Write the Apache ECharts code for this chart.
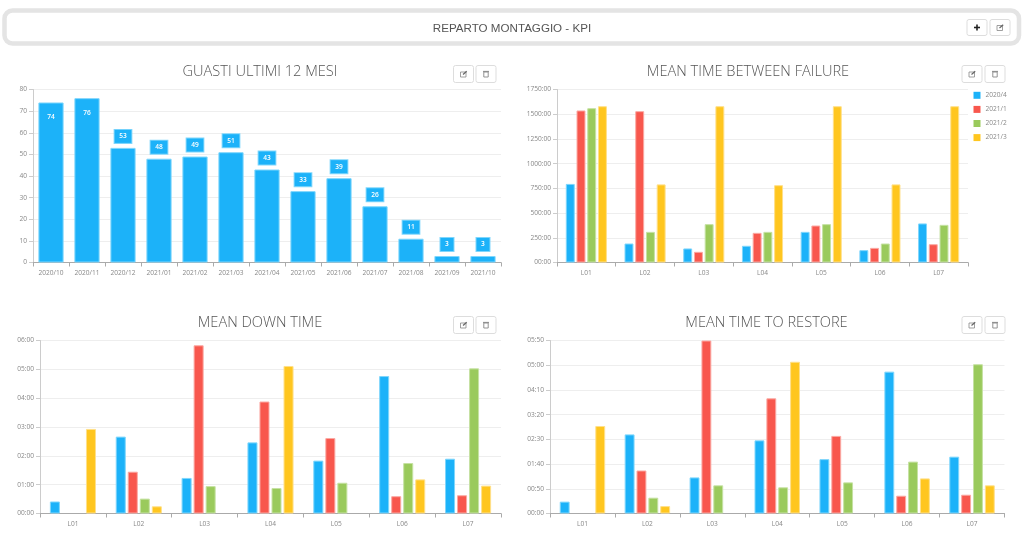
<!DOCTYPE html>
<html><head><meta charset="utf-8">
<style>html,body{margin:0;padding:0;background:#fff}#c{width:1024px;height:536px}</style>
<script src="https://cdn.jsdelivr.net/npm/echarts@6/dist/echarts.min.js"></script>
</head><body><div id="c"></div>
<script>
const months=['2020/10','2020/11','2020/12','2021/01','2021/02','2021/03','2021/04','2021/05','2021/06','2021/07','2021/08','2021/09','2021/10'];
const guasti=[74,76,53,48,49,51,43,33,39,26,11,3,3];
const lines=['L01','L02','L03','L04','L05','L06','L07'];
const seriesNames=['2020/4','2021/1','2021/2','2021/3'];
// hours
const mtbf2020_4=[795,192,142,169,310,125,395];
const mtbf2021_1=[1538,1531,108,300,374,148,185];
const mtbf2021_2=[1561,310,388,310,388,192,381];
const mtbf2021_3=[1581,790,1581,782,1581,790,1581];
// minutes (null = no bar drawn)
const mdt2020_4=[25,160,74,148,110,286,114];
const mdt2021_1=[null,87,350,233,157,36,38];
const mdt2021_2=[null,31,57,53,64,105,302];
const mdt2021_3=[176,15,null,307,null,71,58];
const mttr2020_4=[24,160,73,148,110,287,115];
const mttr2021_1=[null,87,350,233,157,36,38];
const mttr2021_2=[null,32,57,53,63,105,302];
const mttr2021_3=[177,15,null,307,null,71,57];
const colors=['#1cb2f9','#f8574d','#9aca5c','#ffc61f'];
const borders=['#7fd6fc','#fba9a3','#c6e2a3','#ffe08a'];
const pad=n=>String(n).padStart(2,'0');
const hm=m=>pad(Math.floor(m/60))+':'+pad(m%60);
const hours=h=>h===0?'00:00':h+':00';
const fontFamily='"Open Sans"';
const grids=[
 {left:33,right:523,top:89.5,height:173},
 {left:557,right:56,top:89.5,height:173},
 {left:40,right:523,top:340.5,height:173},
 {left:550,right:19.5,top:340.5,height:173}
];
function xAxis(i,data){return{gridIndex:i,type:'category',data,
 axisLine:{lineStyle:{color:'#aaa',width:1}},axisTick:{show:true,length:4,lineStyle:{color:'#aaa'}},
 axisLabel:{fontSize:6.6,color:'#888',fontFamily,interval:0,margin:7}};}
function yAxis(i,max,interval,fmt){return{gridIndex:i,type:'value',min:0,max,interval,
 axisLine:{show:true,lineStyle:{color:'#ccc'}},axisTick:{show:true,length:4,lineStyle:{color:'#ccc'}},
 splitLine:{lineStyle:{color:'#eee',width:1}},
 axisLabel:{fontSize:6.6,color:'#888',fontFamily,margin:6,formatter:fmt}};}
function group(i,arrs,names){return arrs.map((d,k)=>({name:names[k],type:'bar',xAxisIndex:i,yAxisIndex:i,data:d,
 barGap:'20%',barCategoryGap:'30%',animation:false,
 itemStyle:{color:colors[k],borderColor:borders[k],borderWidth:1}}));}
const titleCenters=[260,748,260,766.5];
const titleTexts=['GUASTI ULTIMI 12 MESI','MEAN TIME BETWEEN FAILURE','MEAN DOWN TIME','MEAN TIME TO RESTORE'];
const titleTops=[64,64,315,315];
const btnLefts=[[453.5,476],[962,985],[453.5,476],[962,985]];
const btnTops=[65.5,65.5,316.5,316.5];
function button(x,y,w,h,kind){
 const ch=[{type:'rect',shape:{x,y,width:w,height:h,r:2},style:{fill:'#fff',stroke:'#ddd',lineWidth:1}}];
 const cx=x+w/2,cy=y+h/2;
 if(kind==='edit'){
  ch.push({type:'rect',shape:{x:cx-3,y:cy-2,width:5.5,height:5},style:{fill:'none',stroke:'#888',lineWidth:0.8}});
  ch.push({type:'line',shape:{x1:cx-0.5,y1:cy+0.5,x2:cx+3.2,y2:cy-2.8},style:{stroke:'#666',lineWidth:1.2}});
 }else if(kind==='trash'){
  ch.push({type:'rect',shape:{x:cx-2.2,y:cy-2,width:4.4,height:5},style:{fill:'none',stroke:'#888',lineWidth:0.9}});
  ch.push({type:'line',shape:{x1:cx-3,y1:cy-2.6,x2:cx+3,y2:cy-2.6},style:{stroke:'#888',lineWidth:1}});
 }else{
  ch.push({type:'line',shape:{x1:cx-3,y1:cy,x2:cx+3,y2:cy},style:{stroke:'#222',lineWidth:1.6}});
  ch.push({type:'line',shape:{x1:cx,y1:cy-3,x2:cx,y2:cy+3},style:{stroke:'#222',lineWidth:1.6}});
 }
 return ch;
}
const graphics=[
 {type:'rect',shape:{x:4.5,y:10.5,width:1014.5,height:33,r:8},style:{fill:'#fff',stroke:'#e4e4e4',lineWidth:4.5},z:0},
 {type:'text',x:512,y:28.5,style:{text:'REPARTO MONTAGGIO - KPI',fill:'#555',font:'11.6px "Liberation Sans"',textAlign:'center',textVerticalAlign:'middle'}},
 ...button(967,19.5,20,16,'plus'),...button(990,19.5,20,16,'edit')
];
btnLefts.forEach((xs,i)=>{graphics.push(...button(xs[0],btnTops[i],20,17,'edit'),...button(xs[1],btnTops[i],20,17,'trash'));});
const guastiData=guasti.map((v,i)=>({value:v,label:i<2?
 {position:'insideTop',distance:8,backgroundColor:'transparent',borderWidth:0}:{}}));
const option={
 animation:false,
 textStyle:{fontFamily},
 title:titleTexts.map((t,i)=>({text:t,left:titleCenters[i],top:titleTops[i],textAlign:'center',padding:0,
  textStyle:{fontFamily,fontWeight:300,fontSize:14.6,color:'#555'}})),
 grid:grids,
 legend:{data:seriesNames.map(n=>({name:n})),orient:'vertical',left:973.5,top:91.8,padding:0,itemWidth:7,itemHeight:7,itemGap:7.1,
  itemStyle:{borderWidth:0},
  textStyle:{fontSize:6.6,color:'#888',fontFamily},icon:'rect'},
 xAxis:[xAxis(0,months),xAxis(1,lines),xAxis(2,lines),xAxis(3,lines)],
 yAxis:[yAxis(0,80,10),yAxis(1,1750,250,hours),yAxis(2,360,60,hm),yAxis(3,350,50,hm)],
 series:[
  {name:'Guasti',type:'bar',xAxisIndex:0,yAxisIndex:0,data:guastiData,barCategoryGap:'30%',
   itemStyle:{color:colors[0],borderColor:borders[0],borderWidth:1},
   label:{show:true,position:'top',distance:5,color:'#fff',fontSize:6.6,fontWeight:600,fontFamily,
    backgroundColor:colors[0],borderColor:borders[0],borderWidth:1,padding:[3,4.6],lineHeight:7}},
  ...group(1,[mtbf2020_4,mtbf2021_1,mtbf2021_2,mtbf2021_3],seriesNames),
  ...group(2,[mdt2020_4,mdt2021_1,mdt2021_2,mdt2021_3],seriesNames),
  ...group(3,[mttr2020_4,mttr2021_1,mttr2021_2,mttr2021_3],seriesNames)
 ],
 graphic:{elements:graphics}
};
const chart=echarts.init(document.getElementById('c'),null,{renderer:'canvas'});
chart.setOption(option);
</script></body></html>
